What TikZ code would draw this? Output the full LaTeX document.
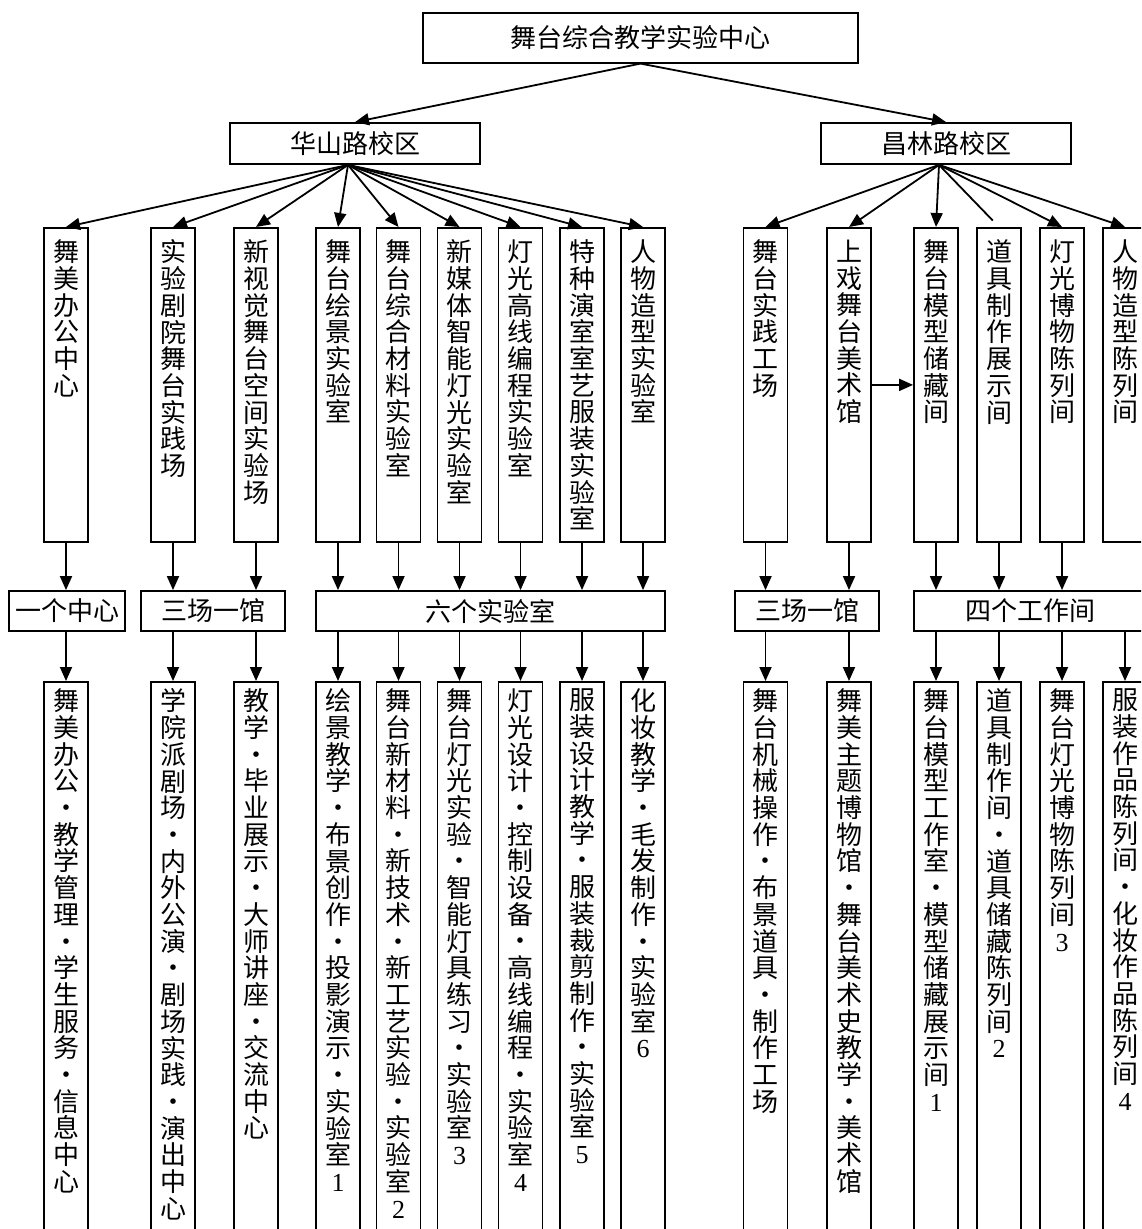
\documentclass[tikz,border=0pt]{standalone}
\usepackage{fontspec}
\setmainfont{Noto Sans CJK SC}
\newfontfamily\numfont{Liberation Serif}
\usetikzlibrary{arrows.meta}

% column text: one character per line
\newcommand\vt[2]{\parbox[t][#1][t]{20pt}{\centering\vtA#2\relax}}
\def\vtA#1{\vtC{#1}\vtB}
\def\vtB#1{\ifx\relax#1\else\\\vtC{#1}\expandafter\vtB\fi}
\def\vtC#1{\ifnum`#1<128 {\numfont #1}\else #1\fi}

\begin{document}
\begin{tikzpicture}[x=0.5pt, y=-0.5pt, font=\fontsize{13}{13.35}\selectfont,
    box/.style={draw, line width=0.9pt, inner sep=0pt},
    tall/.style={box, anchor=north, inner xsep=1pt, inner ysep=6pt},
    low/.style={tall, inner ysep=3.5pt},
    mid/.style={box, minimum height=20pt},
    arr/.style={line width=0.9pt, -{Triangle[length=7pt, width=6pt]}}]
    \useasboundingbox (0,0) rectangle (1141,1229);
    \clip (0,0) rectangle (1141,1229);

    % centre and campuses
    \node[box, minimum width=217.5pt, minimum height=24.7pt] (top) at (640.5,38) {舞台综合教学实验中心};
    \node[box, minimum width=125pt, minimum height=20.5pt] (hs) at (355,143.5) {华山路校区};
    \node[box, minimum width=125pt, minimum height=20.5pt] (cl) at (946,143.5) {昌林路校区};

    % rooms
    \node[tall] (t1) at (66,227) {\vt{145pt}{舞美办公中心}};
    \node[tall] (t2) at (173,227) {\vt{145pt}{实验剧院舞台实践场}};
    \node[tall] (t3) at (256,227) {\vt{145pt}{新视觉舞台空间实验场}};
    \node[tall] (t4) at (338,227) {\vt{145pt}{舞台绘景实验室}};
    \node[tall] (t5) at (398.5,227) {\vt{145pt}{舞台综合材料实验室}};
    \node[tall] (t6) at (459.5,227) {\vt{145pt}{新媒体智能灯光实验室}};
    \node[tall] (t7) at (520.5,227) {\vt{145pt}{灯光高线编程实验室}};
    \node[tall] (t8) at (582,227) {\vt{145pt}{特种演室室艺服装实验室}};
    \node[tall] (t9) at (643,227) {\vt{145pt}{人物造型实验室}};
    \node[tall] (t10) at (765.5,227) {\vt{145pt}{舞台实践工场}};
    \node[tall] (t11) at (849,227) {\vt{145pt}{上戏舞台美术馆}};
    \node[tall] (t12) at (936,227) {\vt{145pt}{舞台模型储藏间}};
    \node[tall] (t13) at (999,227) {\vt{145pt}{道具制作展示间}};
    \node[tall] (t14) at (1062,227) {\vt{145pt}{灯光博物陈列间}};
    \node[tall] (t15) at (1125,227) {\vt{145pt}{人物造型陈列间}};

    % groups
    \node[mid, minimum width=58pt] (m1) at (67,611) {一个中心};
    \node[mid, minimum width=72pt] (m2) at (213,611) {三场一馆};
    \node[mid, minimum width=174.5pt] (m3) at (490.5,611) {六个实验室};
    \node[mid, minimum width=72pt] (m4) at (807,611) {三场一馆};
    \node[mid, minimum width=116pt] (m5) at (1030,611) {四个工作间};

    % functions
    \node[low] (b1) at (66,681) {\vt{300pt}{舞美办公·教学管理·学生服务·信息中心}};
    \node[low] (b2) at (173,681) {\vt{300pt}{学院派剧场·内外公演·剧场实践·演出中心}};
    \node[low] (b3) at (256,681) {\vt{300pt}{教学·毕业展示·大师讲座·交流中心}};
    \node[low] (b4) at (338,681) {\vt{300pt}{绘景教学·布景创作·投影演示·实验室1}};
    \node[low] (b5) at (398.5,681) {\vt{300pt}{舞台新材料·新技术·新工艺实验·实验室2}};
    \node[low] (b6) at (459.5,681) {\vt{300pt}{舞台灯光实验·智能灯具练习·实验室3}};
    \node[low] (b7) at (520.5,681) {\vt{300pt}{灯光设计·控制设备·高线编程·实验室4}};
    \node[low] (b8) at (582,681) {\vt{300pt}{服装设计教学·服装裁剪制作·实验室5}};
    \node[low] (b9) at (643,681) {\vt{300pt}{化妆教学·毛发制作·实验室6}};
    \node[low] (b10) at (765.5,681) {\vt{300pt}{舞台机械操作·布景道具·制作工场}};
    \node[low] (b11) at (849,681) {\vt{300pt}{舞美主题博物馆·舞台美术史教学·美术馆}};
    \node[low] (b12) at (936,681) {\vt{300pt}{舞台模型工作室·模型储藏展示间1}};
    \node[low] (b13) at (999,681) {\vt{300pt}{道具制作间·道具储藏陈列间2}};
    \node[low] (b14) at (1062,681) {\vt{300pt}{舞台灯光博物陈列间3}};
    \node[low] (b15) at (1125,681) {\vt{300pt}{服装作品陈列间·化妆作品陈列间4}};

    \draw[arr] (top.south) -- (hs.north);
    \draw[arr] (top.south) -- (cl.north);
    \foreach \i in {1,...,9}
        \draw[arr] ([xshift=-3.5pt]hs.south) -- (t\i.north);
    \foreach \i in {10,11,12,14,15}
        \draw[arr] ([xshift=-3.5pt]cl.south) -- (t\i.north);
    \draw[line width=0.9pt, shorten >=4.5pt] ([xshift=-3.5pt]cl.south) -- (t13.north);
    \draw[arr] (t11) -- (t12);

    \foreach \i/\m in {1/m1,2/m2,3/m2,4/m3,5/m3,6/m3,7/m3,8/m3,9/m3,10/m4,11/m4,12/m5,13/m5,14/m5}
        \draw[arr] (t\i.south) -- (t\i.south |- \m.north);
    \foreach \i/\m in {1/m1,2/m2,3/m2,4/m3,5/m3,6/m3,7/m3,8/m3,9/m3,10/m4,11/m4,12/m5,13/m5,14/m5,15/m5}
        \draw[arr] (b\i.north |- \m.south) -- (b\i.north);
\end{tikzpicture}
\end{document}
